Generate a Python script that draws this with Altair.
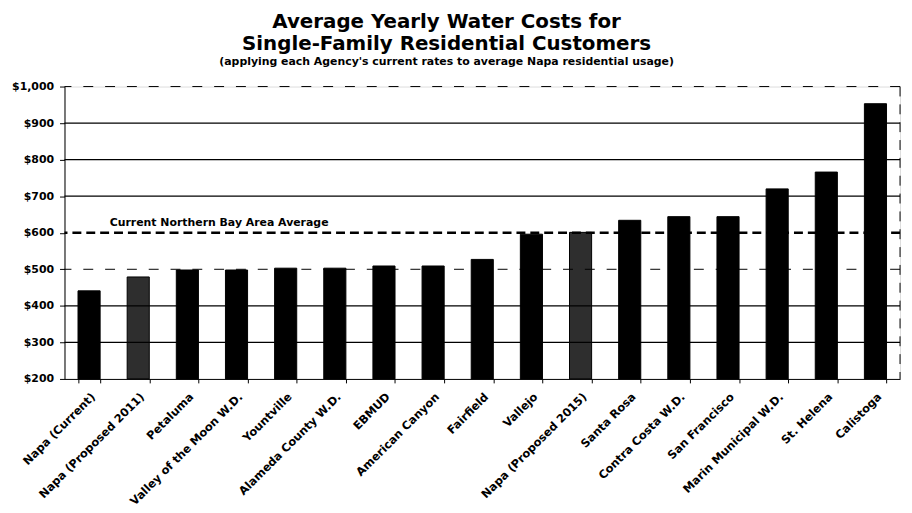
import altair as alt
import pandas as pd

agencies = ["Napa (Current)", "Napa (Proposed 2011)", "Petaluma", "Valley of the Moon W.D.",
            "Yountville", "Alameda County W.D.", "EBMUD", "American Canyon", "Fairfield",
            "Vallejo", "Napa (Proposed 2015)", "Santa Rosa", "Contra Costa W.D.",
            "San Francisco", "Marin Municipal W.D.", "St. Helena", "Calistoga"]
costs = [441, 479, 498, 498, 503, 503, 509, 509, 527, 596, 601, 634, 644, 644, 720, 766, 953]
proposed = [False, True, False, False, False, False, False, False, False,
            False, True, False, False, False, False, False, False]

solid_grid = [300, 400, 700, 800, 900]
dashed_grid = [500, 1000]
y_ticks = [200, 300, 400, 500, 600, 700, 800, 900, 1000]
average_value = 600
average_label = "Current Northern Bay Area Average"

df = pd.DataFrame({"agency": agencies, "cost": costs, "proposed": proposed})
FONT = "DejaVu Sans"

x_enc = alt.X("agency:N", sort=agencies, title=None,
              scale=alt.Scale(paddingInner=0.55, paddingOuter=0.275),
              axis=alt.Axis(labelAngle=-45, labelFont=FONT, labelFontWeight="bold",
                            labelFontSize=11.5, labelColor="black", domainColor="black",
                            tickColor="black", tickSize=4, tickBand="extent",
                            labelPadding=8, labelLimit=250))
y_scale = alt.Scale(domain=[200, 1000], nice=False, zero=False)
y_axis = alt.Axis(values=y_ticks, format="$,.0f", labelFont=FONT, labelFontWeight="bold",
                  labelFontSize=11, labelColor="black", grid=False, labelOverlap=False,
                  domainColor="black", tickColor="black", tickSize=5, labelPadding=6)

bars = alt.Chart(df).mark_bar(stroke="black", strokeWidth=1).encode(
    x=x_enc,
    y=alt.Y("cost:Q", scale=y_scale, title=None, axis=y_axis),
    y2=alt.datum(200),
    color=alt.Color("proposed:N", scale=alt.Scale(domain=[False, True], range=["#000000", "#2e2e2e"]),
                    legend=None),
)

grid_solid = alt.Chart(pd.DataFrame({"v": solid_grid})).mark_rule(color="black", strokeWidth=1.3).encode(
    y=alt.Y("v:Q", scale=y_scale, title=None, axis=y_axis))
grid_dashed = alt.Chart(pd.DataFrame({"v": dashed_grid})).mark_rule(
    color="black", strokeWidth=1, strokeDash=[10, 12]).encode(
    y=alt.Y("v:Q", scale=y_scale, title=None, axis=y_axis))
right_border = alt.Chart(pd.DataFrame({"v": [1000]})).mark_rule(
    color="black", strokeWidth=1, strokeDash=[10, 8]).encode(
    x=alt.value(843), y=alt.value(0), y2=alt.value(295))

avg_df = pd.DataFrame({"v": [average_value], "label": [average_label]})
avg_line = alt.Chart(avg_df).mark_rule(color="black", strokeWidth=2.5, strokeDash=[9, 5]).encode(
    y=alt.Y("v:Q", scale=y_scale, title=None, axis=y_axis))
avg_text = alt.Chart(avg_df).mark_text(font=FONT, fontWeight="bold", fontSize=11, dy=-10,
                                       align="center", color="black").encode(
    x=alt.value(156), y=alt.Y("v:Q", scale=y_scale, title=None, axis=y_axis), text="label:N")

chart = alt.layer(bars, grid_solid, grid_dashed, right_border, avg_line, avg_text).properties(
    width=843, height=295,
    autosize=alt.AutoSizeParams(type="none"),
    padding={"left": 57, "top": 77, "right": 4, "bottom": 130},
    title=alt.Title(text=["Average Yearly Water Costs for", "Single-Family Residential Customers"],
                    subtitle="(applying each Agency's current rates to average Napa residential usage)",
                    font=FONT, fontSize=20, fontWeight="bold", color="black", lineHeight=22,
                    subtitleFont=FONT, subtitleFontSize=11, subtitleFontWeight="bold",
                    subtitleColor="black", subtitlePadding=2, anchor="middle", dx=-36, offset=14),
).configure_view(stroke=None).configure(background="white")

chart.save("out.html", embed_options={"renderer": "svg", "actions": False})
